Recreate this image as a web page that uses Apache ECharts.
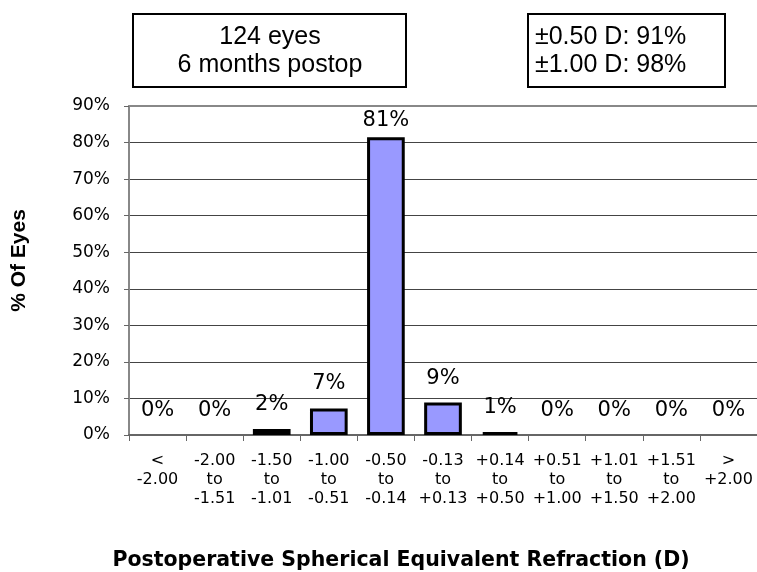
<!DOCTYPE html>
<html>
<head>
<meta charset="utf-8">
<script src="https://cdn.jsdelivr.net/npm/echarts@6/dist/echarts.min.js"></script>
<style>
html,body{margin:0;padding:0;background:#fff;}
#chart{width:757px;height:572px;}
</style>
</head>
<body>
<div id="chart"></div>
<script>
const categories = [
  "<\n-2.00",
  "-2.00\nto\n-1.51",
  "-1.50\nto\n-1.01",
  "-1.00\nto\n-0.51",
  "-0.50\nto\n-0.14",
  "-0.13\nto\n+0.13",
  "+0.14\nto\n+0.50",
  "+0.51\nto\n+1.00",
  "+1.01\nto\n+1.50",
  "+1.51\nto\n+2.00",
  ">\n+2.00"
];
const percentEyes = [0, 0, 1.61, 7.26, 81.45, 8.87, 0.81, 0, 0, 0, 0];
const yTicks = { min: 0, max: 90, interval: 10 };
const boxLeftLines = ["124 eyes", "6 months postop"];
const boxRightLines = ["±0.50 D: 91%", "±1.00 D: 98%"];
const yTitle = "% Of Eyes";
const xTitle = "Postoperative Spherical Equivalent Refraction (D)";

const chart = echarts.init(document.getElementById('chart'), null, {renderer: 'canvas'});

const barData = percentEyes.map(v => ({
  value: v,
  itemStyle: v === 0 ? { borderWidth: 0, color: 'rgba(0,0,0,0)' } : undefined,
  label: { distance: v > 75 ? 6 : 14 }
}));

chart.setOption({
  animation: false,
  backgroundColor: '#fff',
  grid: { left: 129, right: 0, top: 106, bottom: 137, containLabel: false },
  xAxis: [{
    type: 'category',
    data: categories,
    position: 'bottom',
    boundaryGap: true,
    axisLine: { show: true, lineStyle: { color: '#666', width: 2 } },
    axisTick: { show: true, length: 6, lineStyle: { color: '#666', width: 1 } },
    axisLabel: {
      interval: 0,
      margin: 16,
      fontFamily: 'DejaVu Sans',
      fontSize: 16,
      lineHeight: 19,
      color: '#000',
      verticalAlign: 'top'
    }
  }, {
    type: 'category',
    data: categories,
    position: 'top',
    axisLine: { show: true, lineStyle: { color: '#888', width: 2 } },
    axisTick: { show: false },
    axisLabel: { show: false }
  }],
  yAxis: {
    type: 'value',
    min: yTicks.min,
    max: yTicks.max,
    interval: yTicks.interval,
    name: yTitle,
    nameLocation: 'middle',
    nameRotate: 90,
    nameGap: 99,
    nameTextStyle: {
      fontFamily: 'Liberation Sans',
      fontWeight: 'bold',
      fontSize: 21,
      color: '#000',
      padding: [0, 0, 0, 20]
    },
    axisLine: { show: true, lineStyle: { color: '#888', width: 2 } },
    axisTick: { show: true, length: 5, lineStyle: { color: '#666' } },
    axisLabel: {
      formatter: '{value}%',
      margin: 19,
      fontFamily: 'DejaVu Sans',
      fontSize: 17,
      color: '#000'
    },
    splitLine: { show: true, lineStyle: { color: '#444', width: 1 } }
  },
  series: [{
    type: 'bar',
    data: barData,
    barWidth: '66%',
    itemStyle: { color: '#9999FF', borderColor: '#000', borderWidth: 3 },
    label: {
      show: true,
      position: 'top',
      formatter: p => Math.round(p.value) + '%',
      fontFamily: 'DejaVu Sans',
      fontSize: 21,
      color: '#000'
    }
  }],
  graphic: [
    {
      type: 'group',
      left: 132, top: 13,
      children: [
        { type: 'rect', shape: { x: 0, y: 0, width: 273, height: 73 },
          style: { fill: '#fff', stroke: '#000', lineWidth: 2 } },
        { type: 'text', x: 137, y: 37,
          style: { text: boxLeftLines.join('\n'), font: '25px "Liberation Sans"', fill: '#000',
                   textAlign: 'center', textVerticalAlign: 'middle', lineHeight: 28 } }
      ]
    },
    {
      type: 'group',
      left: 527, top: 13,
      children: [
        { type: 'rect', shape: { x: 0, y: 0, width: 197, height: 73 },
          style: { fill: '#fff', stroke: '#000', lineWidth: 2 } },
        { type: 'text', x: 7, y: 37,
          style: { text: boxRightLines.join('\n'), font: '25px "Liberation Sans"', fill: '#000',
                   textAlign: 'left', textVerticalAlign: 'middle', lineHeight: 28 } }
      ]
    },
    {
      type: 'text', x: 401, y: 561,
      style: { text: xTitle, font: 'bold 20.5px "DejaVu Sans"', fill: '#000',
               textAlign: 'center', textVerticalAlign: 'middle' }
    }
  ]
});
</script>
</body>
</html>
